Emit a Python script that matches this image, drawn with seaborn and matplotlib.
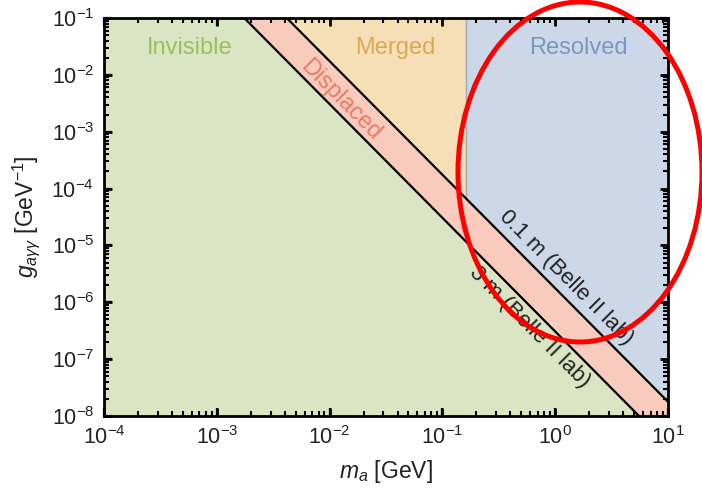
import numpy as np
import matplotlib
matplotlib.use("Agg")
import matplotlib.pyplot as plt
from matplotlib.patches import Ellipse
from matplotlib.ticker import FixedLocator, NullFormatter, FixedFormatter
import seaborn as sns

# ---- data ----
x_limits = [1e-4, 1e1]
y_limits = [1e-8, 1e-1]
x_ticks = [1e-4, 1e-3, 1e-2, 1e-1, 1e0, 1e1]
x_tick_labels = ["$10^{-4}$", "$10^{-3}$", "$10^{-2}$", "$10^{-1}$", "$10^{0}$", "$10^{1}$"]
y_ticks = [1e-8, 1e-7, 1e-6, 1e-5, 1e-4, 1e-3, 1e-2, 1e-1]
y_tick_labels = ["$10^{-8}$", "$10^{-7}$", "$10^{-6}$", "$10^{-5}$", "$10^{-4}$",
                 "$10^{-3}$", "$10^{-2}$", "$10^{-1}$"]

# boundary lines (end points on the frame)
line_01m_m = [10**-2.38, 10**1.0]
line_01m_g = [1e-1, 10**-7.75]
line_3m_m = [10**-2.757, 10**0.743]
line_3m_g = [1e-1, 1e-8]
m_split = 10**-0.794   # Merged / Resolved boundary

region_names = ["Invisible", "Displaced", "Merged", "Resolved"]
region_fill = ["#dce5c3", "#f8cbbd", "#f6dfb6", "#ccd7e8"]
region_text = ["#9cbf5c", "#ea7a66", "#dba955", "#7a97c4"]

line_labels = ["0.1 m (Belle II lab)", "3 m (Belle II lab)"]

# ---- figure ----
sns.set_theme(style="ticks")
plt.rcParams["font.family"] = ["Liberation Sans", "DejaVu Sans"]
plt.rcParams["mathtext.fontset"] = "custom"
plt.rcParams["mathtext.rm"] = "Liberation Sans"
plt.rcParams["mathtext.it"] = "Liberation Sans:italic"

fig = plt.figure(figsize=(7.02, 4.98), dpi=100)
ax = fig.add_axes([104/702, 1 - 416/498, 564/702, 398/498])
ax.set_xscale("log")
ax.set_yscale("log")
ax.set_xlim(*x_limits)
ax.set_ylim(*y_limits)
ax.set_facecolor(region_fill[0])

# tick positions / labels
x_minor = [s * 10.0**e for e in range(-4, 1) for s in range(2, 10)]
y_minor = [s * 10.0**e for e in range(-8, -1) for s in range(2, 10)]
ax.xaxis.set_major_locator(FixedLocator(x_ticks))
ax.xaxis.set_major_formatter(FixedFormatter(x_tick_labels))
ax.xaxis.set_minor_locator(FixedLocator(x_minor))
ax.xaxis.set_minor_formatter(NullFormatter())
ax.yaxis.set_major_locator(FixedLocator(y_ticks))
ax.yaxis.set_major_formatter(FixedFormatter(y_tick_labels))
ax.yaxis.set_minor_locator(FixedLocator(y_minor))
ax.yaxis.set_minor_formatter(NullFormatter())
ax.tick_params(which="both", direction="in", top=True, right=True, color="black")
ax.tick_params(which="major", length=6, width=1.6, pad=7, labelsize=15.5,
               labelcolor="#222222")
ax.tick_params(which="minor", length=3.5, width=1.2)
for s in ax.spines.values():
    s.set_linewidth(2.0)
    s.set_color("black")


def g01(m):
    return 10**np.interp(np.log10(m), np.log10(line_01m_m), np.log10(line_01m_g))


g_split = g01(m_split)

# Displaced band (above 3 m line)
ax.fill([line_3m_m[0], line_3m_m[1], x_limits[1], x_limits[1]],
        [line_3m_g[0], line_3m_g[1], y_limits[0], y_limits[1]],
        color=region_fill[1], lw=0, zorder=0.5)
# Merged
ax.fill([line_01m_m[0], m_split, m_split],
        [line_01m_g[0], g_split, y_limits[1]],
        color=region_fill[2], lw=0, zorder=1)
# Resolved
ax.fill([m_split, line_01m_m[1], x_limits[1], m_split],
        [g_split, line_01m_g[1], y_limits[1], y_limits[1]],
        color=region_fill[3], lw=0, zorder=1)

sns.lineplot(x=line_01m_m, y=line_01m_g, ax=ax, color="black", lw=1.6, zorder=2)
sns.lineplot(x=line_3m_m, y=line_3m_g, ax=ax, color="black", lw=1.6, zorder=2)
sns.lineplot(x=[m_split, m_split], y=[g_split, y_limits[1]], ax=ax, color="black",
             lw=1.6, zorder=2)

# inward frame ticks drawn explicitly (bottom/top and left/right)
xt = ax.get_xaxis_transform()
yt = ax.get_yaxis_transform()
maj_x, min_x = 8 / 398, 5 / 398     # tick length as axes fraction (vertical ticks)
maj_y, min_y = 8 / 564, 5 / 564     # tick length as axes fraction (horizontal ticks)
for pos, ln, lw in ((x_ticks, maj_x, 2.0), (x_minor, min_x, 1.5)):
    ax.vlines(pos, 0, ln, transform=xt, colors="black", lw=lw, zorder=5, clip_on=False)
    ax.vlines(pos, 1 - ln, 1, transform=xt, colors="black", lw=lw, zorder=5,
              clip_on=False)
for pos, ln, lw in ((y_ticks, maj_y, 2.0), (y_minor, min_y, 1.5)):
    ax.hlines(pos, 0, ln, transform=yt, colors="black", lw=lw, zorder=5, clip_on=False)
    ax.hlines(pos, 1 - ln, 1, transform=yt, colors="black", lw=lw, zorder=5,
              clip_on=False)
ax.set_xlim(*x_limits)
ax.set_ylim(*y_limits)

# angle of lines in pixel space
p0 = ax.transData.transform((line_01m_m[0], line_01m_g[0]))
p1 = ax.transData.transform((line_01m_m[1], line_01m_g[1]))
angle = np.degrees(np.arctan2(p1[1] - p0[1], p1[0] - p0[0]))

rfs = 17
lfs = 16
ax.text(10**-3.24, 10**-1.53, region_names[0], color=region_text[0], fontsize=rfs,
        ha="center", va="center", zorder=3)
ax.text(10**-1.42, 10**-1.53, region_names[2], color=region_text[2], fontsize=rfs,
        ha="center", va="center", zorder=3)
ax.text(10**0.21, 10**-1.53, region_names[3], color=region_text[3], fontsize=rfs,
        ha="center", va="center", zorder=3)
ax.text(10**-1.90, 10**-2.44, region_names[1], color=region_text[1], fontsize=rfs,
        ha="center", va="center", rotation=angle, rotation_mode="anchor", zorder=3)
ax.text(10**0.094, 10**-5.57, line_labels[0], color="#222222", fontsize=lfs,
        ha="center", va="center", rotation=angle, rotation_mode="anchor", zorder=3)
ax.text(10**-0.23, 10**-6.43, line_labels[1], color="#222222", fontsize=lfs,
        ha="center", va="center", rotation=angle, rotation_mode="anchor", zorder=3)

ax.set_xlabel("$m_a$ [GeV]", fontsize=16.5, color="#222222", labelpad=7)
ax.set_ylabel(r"$g_{a\gamma\gamma}$ [GeV$^{-1}$]", fontsize=16.5, color="#222222",
              labelpad=7)

# red annotation ellipse (figure coordinates)
fig.add_artist(Ellipse((580/702, 1 - 172/498), 244/702, 340/498,
                       transform=fig.transFigure, fill=False, ec="#ff0000",
                       lw=3.6, clip_on=False, zorder=10))

fig.savefig("out.png", dpi=100)
